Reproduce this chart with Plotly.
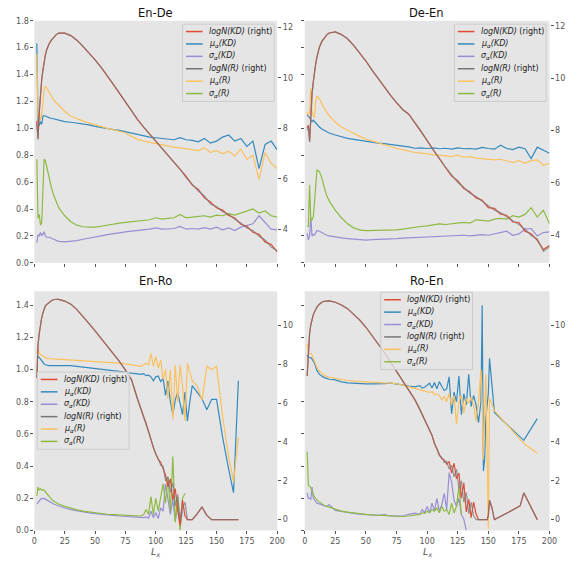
import plotly.graph_objects as go

W, H = 584, 566
FONT = "DejaVu Sans"

# ---------------- data ----------------
X_TOP = [2, 3, 4, 5, 6, 7, 8, 9, 10, 12, 14, 16, 18, 20,
         25, 30, 35, 40, 45, 50, 55, 60, 65, 70, 75, 80, 85, 90, 95, 100,
         105, 110, 115, 120, 125, 130, 135, 140, 145, 150, 155, 160, 165, 170,
         175, 180, 185, 190, 195, 200]

# En-De
ende_logKD = [8.3, 7.6, 8.6, 9.5, 9.9, 10.3, 10.65, 10.9, 11.1, 11.35, 11.5, 11.62, 11.72, 11.78,
              11.78, 11.68, 11.5, 11.25, 11.0, 10.72, 10.42, 10.1, 9.75, 9.4, 9.05, 8.68, 8.35, 8.05, 7.77, 7.5,
              7.2, 6.92, 6.63, 6.35, 6.1, 5.75, 5.58, 5.25, 5.08, 4.85, 4.76, 4.55, 4.45, 4.2,
              4.12, 3.88, 3.8, 3.5, 3.4, 3.1]
ende_muKD = [1.63, 1.05, 1.02, 1.05, 1.03, 1.09, 1.095, 1.09, 1.085, 1.08, 1.075, 1.07, 1.065, 1.06,
             1.05, 1.045, 1.04, 1.035, 1.025, 1.015, 1.005, 1.0, 0.99, 0.985, 0.975, 0.962, 0.955, 0.945, 0.935, 0.93,
             0.925, 0.92, 0.915, 0.93, 0.915, 0.91, 0.9, 0.925, 0.89, 0.905, 0.935, 0.95, 0.905, 0.925,
             0.865, 0.905, 0.7, 0.88, 0.905, 0.84]
ende_sdKD = [0.15, 0.21, 0.2, 0.225, 0.2, 0.215, 0.23, 0.2, 0.19, 0.19, 0.185, 0.175, 0.167, 0.16,
             0.156, 0.158, 0.165, 0.175, 0.182, 0.19, 0.2, 0.21, 0.218, 0.225, 0.23, 0.236, 0.24, 0.242, 0.25, 0.26,
             0.25, 0.252, 0.255, 0.27, 0.25, 0.255, 0.25, 0.262, 0.25, 0.265, 0.245, 0.26, 0.24, 0.265,
             0.28, 0.29, 0.35, 0.3, 0.25, 0.245]
ende_logR = [8.2, 7.55, 8.7, 9.45, 9.95, 10.3, 10.65, 10.9, 11.1, 11.35, 11.5, 11.62, 11.72, 11.78,
             11.78, 11.68, 11.5, 11.25, 11.0, 10.72, 10.42, 10.1, 9.75, 9.4, 9.05, 8.68, 8.35, 8.05, 7.77, 7.5,
             7.2, 6.92, 6.63, 6.38, 6.05, 5.8, 5.52, 5.32, 5.0, 4.9, 4.7, 4.6, 4.4, 4.25,
             4.05, 3.95, 3.72, 3.58, 3.3, 3.15]
ende_muR = [1.55, 1.08, 1.12, 1.06, 1.1, 1.2, 1.29, 1.31, 1.3, 1.27, 1.235, 1.21, 1.19, 1.17,
            1.125, 1.09, 1.07, 1.055, 1.04, 1.025, 1.01, 1.0, 0.99, 0.975, 0.965, 0.94, 0.918, 0.905, 0.895, 0.885,
            0.875, 0.865, 0.86, 0.855, 0.85, 0.845, 0.835, 0.855, 0.82, 0.835, 0.81, 0.83, 0.795, 0.845,
            0.77, 0.8, 0.62, 0.82, 0.74, 0.7]
ende_sdR = [0.77, 0.33, 0.36, 0.28, 0.3, 0.6, 0.77, 0.76, 0.72, 0.63, 0.56, 0.5, 0.45, 0.41,
            0.35, 0.305, 0.28, 0.268, 0.265, 0.265, 0.272, 0.28, 0.29, 0.295, 0.3, 0.305, 0.31, 0.315, 0.32, 0.335,
            0.325, 0.33, 0.335, 0.36, 0.335, 0.34, 0.345, 0.35, 0.34, 0.355, 0.35, 0.365, 0.355, 0.37,
            0.385, 0.4, 0.37, 0.385, 0.35, 0.34]

# De-En
deen_logKD = [8.1, 8.2, 7.6, 8.8, 9.4, 9.85, 10.3, 10.55, 10.8, 11.18, 11.4, 11.55, 11.65, 11.72,
              11.76, 11.66, 11.5, 11.25, 10.95, 10.65, 10.3, 9.97, 9.65, 9.35, 9.06, 8.8, 8.62, 8.3, 7.98, 7.62,
              7.25, 6.9, 6.58, 6.25, 6.08, 5.78, 5.65, 5.42, 5.33, 5.05, 5.02, 4.8, 4.76, 4.5,
              4.48, 4.15, 4.05, 3.8, 3.45, 3.6]
deen_muKD = [1.1, 1.09, 1.08, 1.06, 1.05, 1.06, 1.05, 1.04, 1.025, 1.01, 0.995, 0.985, 0.975, 0.965,
             0.95, 0.935, 0.925, 0.918, 0.91, 0.903, 0.897, 0.89, 0.886, 0.88, 0.876, 0.87, 0.862, 0.852, 0.855, 0.85,
             0.855, 0.848, 0.852, 0.845, 0.855, 0.848, 0.85, 0.845, 0.858, 0.85, 0.845, 0.875, 0.85, 0.842,
             0.86, 0.848, 0.775, 0.86, 0.84, 0.815]
deen_sdKD = [0.22, 0.17, 0.2, 0.34, 0.2, 0.21, 0.205, 0.23, 0.24, 0.235, 0.225, 0.21, 0.205, 0.2,
             0.19, 0.185, 0.18, 0.175, 0.17, 0.168, 0.172, 0.173, 0.176, 0.178, 0.18, 0.184, 0.186, 0.188, 0.19, 0.193,
             0.195, 0.198, 0.2, 0.198, 0.203, 0.205, 0.2, 0.207, 0.21, 0.205, 0.215, 0.22, 0.235, 0.205,
             0.215, 0.25, 0.255, 0.2, 0.225, 0.23]
deen_logR = [8.0, 8.15, 7.55, 8.8, 9.4, 9.85, 10.3, 10.55, 10.8, 11.18, 11.4, 11.55, 11.65, 11.72,
             11.76, 11.66, 11.5, 11.25, 10.95, 10.65, 10.3, 9.97, 9.65, 9.35, 9.06, 8.8, 8.62, 8.3, 7.98, 7.6,
             7.25, 6.9, 6.6, 6.3, 6.02, 5.82, 5.6, 5.47, 5.28, 5.12, 4.95, 4.86, 4.7, 4.56,
             4.4, 4.22, 3.98, 3.85, 3.38, 3.55]
deen_muR = [1.12, 1.1, 1.12, 1.3, 1.12, 1.1, 1.08, 1.2, 1.24, 1.22, 1.18, 1.15, 1.12, 1.095,
            1.045, 1.01, 0.985, 0.96, 0.94, 0.92, 0.905, 0.89, 0.877, 0.865, 0.851, 0.84, 0.83, 0.82, 0.815, 0.808,
            0.805, 0.8, 0.797, 0.79, 0.8, 0.785, 0.79, 0.778, 0.775, 0.77, 0.765, 0.77, 0.755, 0.745,
            0.76, 0.74, 0.76, 0.765, 0.725, 0.74]
deen_sdR = [0.27, 0.27, 0.58, 0.31, 0.32, 0.34, 0.45, 0.6, 0.69, 0.68, 0.63, 0.56, 0.5, 0.46,
            0.39, 0.335, 0.29, 0.26, 0.245, 0.24, 0.24, 0.242, 0.242, 0.243, 0.245, 0.25, 0.258, 0.262, 0.27, 0.275,
            0.28, 0.29, 0.285, 0.29, 0.298, 0.3, 0.295, 0.32, 0.315, 0.31, 0.325, 0.33, 0.325, 0.35,
            0.34, 0.36, 0.41, 0.34, 0.39, 0.29]

# En-Ro
X_ENRO = [2, 3, 4, 5, 6, 7, 8, 9, 10, 12, 14, 16, 18, 20,
          25, 30, 35, 40, 45, 50, 55, 60, 65, 70, 75, 80, 85,
          88,
          90, 92, 94, 96, 98, 100, 102, 104, 106, 108, 110, 112, 114, 116, 118, 120, 122, 124, 126, 128, 130,
          134, 138, 142, 146, 150,
          155, 160, 164, 168]
enro_logKD = [7.3, 9.0, 9.6, 10.1, 10.4, 10.65, 10.88, 11.0, 11.08, 11.2, 11.28, 11.34, 11.36, 11.35,
              11.26, 11.1, 10.82, 10.48, 10.1, 9.72, 9.33, 8.93, 8.52, 8.15, 7.7, 7.2, 6.2,
              5.6,
              5.3, 4.95, 4.5, 4.1, 3.7, 3.4, 3.1, 2.95, 2.6, 2.3, 1.7, 2.1, 1.0, 1.6, 0.5, -0.3, 1.0, 0.2, 0.0, 0.0, 0.0,
              0.3, 0.65, 0.22, 0.0, 0.0,
              0.0, 0.0, 0.0, 0.0]
enro_muKD = [1.08, 1.08, 1.075, 1.065, 1.05, 1.04, 1.035, 1.03, 1.028, 1.025, 1.025, 1.025, 1.025, 1.025,
             1.025, 1.024, 1.02, 1.016, 1.012, 1.008, 1.003, 0.998, 0.993, 0.988, 0.984, 0.978, 0.972,
             0.97,
             0.975, 0.962, 0.965, 0.955, 0.93, 0.955, 0.96, 0.925, 0.945, 0.84, 0.93, 0.8, 0.72, 0.81, 0.86, 0.79, 0.72, 0.86, 0.68, 0.8, 0.9,
             0.86, 0.82, 0.75, 0.815, 0.815,
             0.58, 0.38, 0.235, 0.93]
enro_sdKD = [0.163, 0.175, 0.185, 0.194, 0.198, 0.2, 0.2, 0.195, 0.19, 0.18, 0.172, 0.165, 0.158, 0.152,
             0.14, 0.13, 0.122, 0.115, 0.11, 0.105, 0.1, 0.097, 0.094, 0.09, 0.088, 0.085, 0.082,
             0.08,
             0.08, 0.085, 0.075, 0.12, 0.08, 0.11, 0.075, 0.14, 0.12, 0.29, 0.18, 0.1, 0.19, 0.06, 0.16, 0.03, 0.12, None, None, None, None,
             None, None, None, None, None,
             None, None, None, None]
enro_logR = [7.3, 9.0, 9.6, 10.1, 10.4, 10.65, 10.88, 11.0, 11.08, 11.2, 11.28, 11.34, 11.36, 11.35,
             11.26, 11.1, 10.82, 10.48, 10.1, 9.72, 9.33, 8.93, 8.52, 8.15, 7.7, 7.2, 6.2,
             5.6,
             5.3, 4.9, 4.55, 4.1, 3.75, 3.35, 3.15, 2.8, 2.75, 2.0, 2.2, 1.4, 1.9, 0.7, 1.3, 0.0, 0.6, 0.9, 0.0, 0.0, 0.0,
             0.3, 0.65, 0.22, 0.0, 0.0,
             0.0, 0.0, 0.0, 0.0]
enro_muR = [1.1, 1.13, 1.1, 1.095, 1.085, 1.08, 1.075, 1.072, 1.07, 1.068, 1.067, 1.066, 1.066, 1.066,
            1.065, 1.063, 1.06, 1.057, 1.054, 1.05, 1.048, 1.045, 1.042, 1.04, 1.035, 1.028, 1.022,
            1.02,
            1.03, 1.04, 1.03, 1.1, 1.02, 1.08, 1.01, 1.06, 0.94, 1.0, 0.82, 1.0, 0.69, 1.03, 0.8, 1.03, 0.9, 0.68, 1.04, 0.98, 0.93,
            0.9, 0.81, 1.02, 1.0, 1.02,
            0.71, 0.46, 0.3, 0.58]
enro_sdR = [0.215, 0.27, 0.25, 0.26, 0.25, 0.255, 0.25, 0.24, 0.228, 0.21, 0.195, 0.182, 0.172, 0.165,
            0.15, 0.138, 0.128, 0.12, 0.115, 0.108, 0.104, 0.101, 0.099, 0.097, 0.095, 0.094, 0.092,
            0.09,
            0.1, 0.13, 0.1, 0.21, 0.1, 0.2, 0.12, 0.2, 0.29, 0.17, 0.33, 0.12, 0.46, 0.05, 0.21, 0.0, 0.2, 0.23, None, None, None,
            None, None, None, None, None,
            None, None, None, None]

# Ro-En
X_ROEN = [2, 3, 4, 5, 6, 7, 8, 9, 10, 12, 14, 16, 18, 20,
          25, 30, 35, 40, 45, 50, 55, 60, 65, 70, 75, 80, 85, 90,
          94,
          96, 98, 100, 102, 104, 106, 108, 110, 112, 114, 116, 118, 120, 122, 124, 126, 128, 130, 132, 134, 136, 138, 140, 142, 144,
          145, 146, 147, 148, 149, 150, 151, 153, 155,
          165, 176, 179, 190]
roen_logKD = [7.4, 8.9, 9.6, 10.05, 10.35, 10.55, 10.7, 10.85, 10.95, 11.1, 11.2, 11.25, 11.28, 11.27,
              11.2, 11.06, 10.87, 10.6, 10.28, 9.91, 9.5, 9.07, 8.62, 8.13, 7.65, 7.18, 6.72, 6.18,
              5.68,
              5.4, 5.15, 4.88, 4.62, 4.33, 3.95, 3.6, 3.35, 3.15, 3.08, 2.85, 3.0, 2.4, 2.9, 2.1, 2.4, 1.1, 1.9, 0.4, 1.05, 0.1, 0.9, 0.3, 0.0, 0.0,
              0.0, 0.0, 0.0, 0.0, 0.0, 0.2, 1.0, 0.6, 0.0,
              0.33, 0.71, 1.38, 0.0]
roen_muKD = [1.09, 1.075, 1.075, 1.074, 1.065, 1.055, 1.04, 1.015, 0.995, 0.97, 0.958, 0.95, 0.945, 0.94,
             0.936, 0.924, 0.917, 0.914, 0.912, 0.911, 0.911, 0.911, 0.912, 0.916, 0.912, 0.905, 0.898, 0.892,
             0.9,
             0.885, 0.89, 0.9, 0.915, 0.885, 0.92, 0.88, 0.925, 0.895, 0.87, 0.88, 0.955, 0.725, 0.86, 0.8, 0.96, 0.72, 0.85, 0.78, 0.97, 0.77, 0.84, 0.78, 0.67, 0.8,
             1.4, 0.37, 0.44, 0.7, 0.78, 0.85, 1.07, 0.88, 0.734,
             0.66, 0.58, 0.56, 0.695]
roen_sdKD = [0.234, 0.2, 0.2, 0.195, 0.27, 0.2, 0.19, 0.175, 0.17, 0.165, 0.158, 0.152, 0.15, 0.16,
             0.125, 0.118, 0.112, 0.106, 0.102, 0.099, 0.096, 0.094, 0.098, 0.09, 0.089, 0.09, 0.1, 0.108,
             0.1,
             0.13, 0.11, 0.15, 0.11, 0.17, 0.12, 0.2, 0.12, 0.16, 0.23, 0.13, 0.36, 0.3, 0.19, 0.15, 0.2, 0.1, 0.07, 0.0, None, None, None, None, None, None,
             None, None, None, None, None, None, None, None, None,
             None, None, None, None]
roen_logR = [7.4, 8.9, 9.6, 10.05, 10.35, 10.55, 10.7, 10.85, 10.95, 11.1, 11.2, 11.25, 11.28, 11.27,
             11.2, 11.06, 10.87, 10.6, 10.28, 9.91, 9.5, 9.07, 8.62, 8.13, 7.65, 7.18, 6.72, 6.18,
             5.68,
             5.4, 5.15, 4.88, 4.6, 4.35, 3.9, 3.65, 3.3, 3.2, 2.95, 3.0, 2.6, 2.8, 2.2, 2.6, 1.6, 2.0, 0.9, 1.4, 0.3, 0.9, 0.2, 0.0, 0.0, 0.0,
             0.0, 0.0, 0.0, 0.0, 0.0, 0.2, 1.0, 0.6, 0.0,
             0.33, 0.71, 1.38, 0.0]
roen_muR = [1.16, 1.1, 1.1, 1.1, 1.09, 1.07, 1.05, 1.03, 1.012, 0.99, 0.975, 0.965, 0.958, 0.952,
            0.945, 0.937, 0.932, 0.928, 0.925, 0.922, 0.92, 0.918, 0.917, 0.916, 0.912, 0.903, 0.894, 0.883,
            0.876,
            0.87, 0.866, 0.862, 0.858, 0.862, 0.845, 0.848, 0.84, 0.81, 0.835, 0.8, 0.85, 0.78, 0.84, 0.66, 0.8, 0.84, 0.73, 0.82, 0.79, 0.83, 0.78, 0.68, 0.8, 1.0,
            0.8, 0.44, 0.8, 0.97, 0.5, 0.01, 0.82, 0.78, 0.745,
            0.66, 0.565, 0.54, 0.48]
roen_sdR = [0.49, 0.28, 0.275, 0.265, 0.24, 0.22, 0.21, 0.2, 0.19, 0.178, 0.165, 0.155, 0.15, 0.145,
            0.13, 0.12, 0.114, 0.108, 0.103, 0.1, 0.097, 0.095, 0.093, 0.09, 0.088, 0.087, 0.09, 0.095,
            0.1,
            0.11, 0.105, 0.12, 0.11, 0.13, 0.12, 0.14, 0.11, 0.15, 0.12, 0.13, 0.1, 0.17, 0.11, 0.15, 0.27, 0.1, None, None, None, None, None, None, None, None,
            None, None, None, None, None, None, None, None, None,
            None, None, None, None]

TITLES = ["En-De", "De-En", "En-Ro", "Ro-En"]
SERIES_NAMES = ["<i>logN(KD)</i> (right)", "<i>μ<sub>α</sub>(KD)</i>", "<i>σ<sub>α</sub>(KD)</i>",
                "<i>logN(R)</i> (right)", "<i>μ<sub>α</sub>(R)</i>", "<i>σ<sub>α</sub>(R)</i>"]
X_TICKS = [0, 25, 50, 75, 100, 125, 150, 175, 200]
LEFT_TICKS_TOP = [0.0, 0.2, 0.4, 0.6, 0.8, 1.0, 1.2, 1.4, 1.6, 1.8]
LEFT_TICKS_BOT = [0.0, 0.2, 0.4, 0.6, 0.8, 1.0, 1.2, 1.4]
RIGHT_TICKS_TOP = [4, 6, 8, 10, 12]
RIGHT_TICKS_BOT = [0, 2, 4, 6, 8, 10]

# ---------------- styling ----------------
COLORS = ["#E24A33", "#348ABD", "#988ED5", "rgba(119,119,119,0.75)", "#FBC15E", "#8EBA42"]
LEG_COLORS = ["#E24A33", "#348ABD", "#988ED5", "#777777", "#FBC15E", "#8EBA42"]
ON_RIGHT = [True, False, False, True, False, False]

colL = [32 / W, 279.5 / W]
colR = [307.5 / W, 557 / W]
rowT = [1 - 263 / H, 1 - 17 / H]
rowB = [1 - 535 / H, 1 - 292 / H]

panels = [
    dict(x=X_TOP, s=[ende_logKD, ende_muKD, ende_sdKD, ende_logR, ende_muR, ende_sdR],
         col=colL, row=rowT, yl=[0, 1.8], yr=[2.67, 12.27], lt=LEFT_TICKS_TOP, rt=RIGHT_TICKS_TOP,
         left=True, bottom=False, leg=(183, 20.5), title=(155.5, 9)),
    dict(x=X_TOP, s=[deen_logKD, deen_muKD, deen_sdKD, deen_logR, deen_muR, deen_sdR],
         col=colR, row=rowT, yl=[0, 1.8], yr=[2.94, 12.19], lt=LEFT_TICKS_TOP, rt=RIGHT_TICKS_TOP,
         left=False, bottom=False, leg=(460, 20.5), title=(432, 9)),
    dict(x=X_ENRO, s=[enro_logKD, enro_muKD, enro_sdKD, enro_logR, enro_muR, enro_sdR],
         col=colL, row=rowB, yl=[0, 1.486], yr=[-0.56, 11.76], lt=LEFT_TICKS_BOT, rt=RIGHT_TICKS_BOT,
         left=True, bottom=True, leg=(35, 374), title=(155.5, 281.5)),
    dict(x=X_ROEN, s=[roen_logKD, roen_muKD, roen_sdKD, roen_logR, roen_muR, roen_sdR],
         col=colR, row=rowB, yl=[0, 1.486], yr=[-0.56, 11.76], lt=LEFT_TICKS_BOT, rt=RIGHT_TICKS_BOT,
         left=False, bottom=True, leg=(385, 293), title=(432, 281.5)),
]

fig = go.Figure()
tickfont = dict(family=FONT, size=8, color="#555555")
shapes, annotations = [], []
layout = {}

for i, p in enumerate(panels, start=1):
    sfx = "" if i == 1 else str(i)
    for k in range(6):
        assert len(p["s"][k]) == len(p["x"]), (i, k)
        fig.add_trace(go.Scatter(
            x=p["x"], y=p["s"][k], mode="lines",
            line=dict(color=COLORS[k], width=1.2),
            xaxis="x" + sfx, yaxis=("y" + str(i + 4)) if ON_RIGHT[k] else ("y" + sfx),
            showlegend=False, hoverinfo="skip"))
    layout["xaxis" + sfx] = dict(
        domain=p["col"], anchor="y" + sfx, range=[0, 200], tickvals=X_TICKS,
        showticklabels=p["bottom"], ticks="outside", ticklen=3, tickwidth=1, tickcolor="#555555",
        tickfont=tickfont, showgrid=False, zeroline=False, showline=False)
    layout["yaxis" + sfx] = dict(
        domain=p["row"], anchor="x" + sfx, range=p["yl"], tickvals=p["lt"], tickformat=".1f",
        showticklabels=p["left"], ticks="outside", ticklen=3, tickwidth=1, tickcolor="#555555",
        tickfont=tickfont, showgrid=False, zeroline=False, showline=False)
    layout["yaxis" + str(i + 4)] = dict(
        overlaying="y" + sfx, side="right", anchor="x" + sfx, range=p["yr"], tickvals=p["rt"],
        ticks="outside", ticklen=3, tickwidth=1, tickcolor="#555555",
        tickfont=tickfont, showgrid=False, zeroline=False, showline=False)

    # background of plot area
    shapes.append(dict(type="rect", xref="paper", yref="paper", layer="below",
                       x0=p["col"][0], x1=p["col"][1], y0=p["row"][0], y1=p["row"][1],
                       fillcolor="#E5E5E5", line=dict(width=0)))
    # title
    tx, ty = p["title"]
    annotations.append(dict(text=TITLES[i - 1], x=tx / W, y=1 - ty / H, xref="paper", yref="paper",
                            showarrow=False, xanchor="center", yanchor="middle",
                            font=dict(family=FONT, size=11.5, color="#111111")))
    if p["bottom"]:
        annotations.append(dict(text="<i>L<sub>x</sub></i>", x=(p["col"][0] + p["col"][1]) / 2,
                                y=1 - 549 / H, xref="paper", yref="paper", showarrow=False,
                                xanchor="center", yanchor="top",
                                font=dict(family=FONT, size=9.5, color="#555555")))
    # legend box
    lx, ly = p["leg"]
    bw, bh = 93.5, 78.5
    shapes.append(dict(type="rect", xref="paper", yref="paper", layer="above",
                       x0=lx / W, x1=(lx + bw) / W, y0=1 - (ly + bh) / H, y1=1 - ly / H,
                       fillcolor="rgba(229,229,229,0.8)", line=dict(color="#CCCCCC", width=1)))
    for k in range(6):
        ry = ly + 7.5 + k * 12.6
        shapes.append(dict(type="line", xref="paper", yref="paper", layer="above",
                           x0=(lx + 3.5) / W, x1=(lx + 20.5) / W, y0=1 - ry / H, y1=1 - ry / H,
                           line=dict(color=LEG_COLORS[k], width=1.5)))
        annotations.append(dict(text=SERIES_NAMES[k], x=(lx + 25) / W, y=1 - ry / H,
                                xref="paper", yref="paper", showarrow=False,
                                xanchor="left", yanchor="middle",
                                font=dict(family=FONT, size=8, color="#222222")))

fig.update_layout(
    width=W, height=H, autosize=False,
    margin=dict(l=0, r=0, t=0, b=0),
    paper_bgcolor="white", plot_bgcolor="rgba(0,0,0,0)",
    showlegend=False, shapes=shapes, annotations=annotations,
    **layout)

fig.write_html("out.html", config={"displayModeBar": False})
